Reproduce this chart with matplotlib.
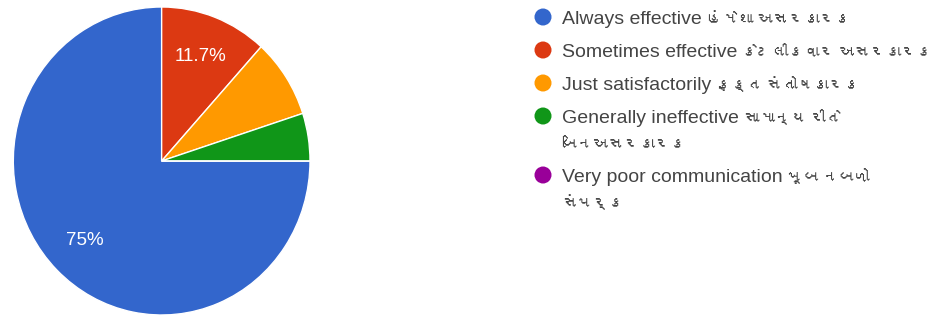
import matplotlib
matplotlib.use("Agg")
import matplotlib.pyplot as plt
from matplotlib import font_manager
from matplotlib.ft2font import FT2Font

labels = ["Always effective હંમેશા અસરકારક",
          "Sometimes effective કેટલીકવાર અસરકારક",
          "Just satisfactorily ફક્ત સંતોષકારક",
          "Generally ineffective સામાન્ય રીતે\nબિનઅસરકારક",
          "Very poor communication ખૂબ નબળો\nસંપર્ક"]
values = [75, 11.7, 8.3, 5, 0]
colors = ["#3366cc", "#dc3912", "#ff9900", "#109618", "#990099"]

# look for any installed font that has Gujarati glyphs
families = ["Liberation Sans", "DejaVu Sans"]
for f in font_manager.fontManager.ttflist:
    try:
        if 0x0A95 in FT2Font(f.fname).get_charmap():
            families.append(f.name)
            break
    except Exception:
        pass
plt.rcParams["font.family"] = families

W, H = 932, 319
fig = plt.figure(figsize=(W / 100, H / 100), dpi=100)

# pie (slightly taller than wide, like the source image)
ax = fig.add_axes([13.3 / W, 4 / H, 296.7 / W, 308 / H])

def pct_label(p):
    if p < 10:
        return ""
    return f"{p:.1f}".rstrip("0").rstrip(".") + "%"

ax.pie(values, colors=colors, startangle=0, counterclock=False,
       autopct=pct_label, pctdistance=0.73,
       wedgeprops=dict(edgecolor="white", linewidth=1),
       textprops=dict(color="white", fontsize=13.5))
ax.set_xlim(-1, 1)
ax.set_ylim(-1, 1)
ax.set_aspect("auto")
ax.axis("off")

# legend drawn in pixel space
lg = fig.add_axes([0, 0, 1, 1])
lg.set_xlim(0, W)
lg.set_ylim(H, 0)
lg.axis("off")
rend = fig.canvas.get_renderer()

def split_gu(s):
    for i, ch in enumerate(s):
        if 0x0A80 <= ord(ch) <= 0x0AFF:
            return s[:i].rstrip(), s[i:]
    return s, ""

y = 17
for lab, c in zip(labels, colors):
    lg.scatter([543], [y], s=150, color=c, edgecolors="none")
    lines = lab.split("\n")
    for i, ln in enumerate(lines):
        base = y + i * 26 + 7
        lat, gu = split_gu(ln)
        x = 562
        if lat:
            t = lg.text(x, base, lat, fontsize=14, color="#444444",
                        va="baseline", ha="left")
            x = t.get_window_extent(rend).x1 + 5
        if gu:
            lg.text(x, base, gu, fontsize=11.2, color="#444444",
                    va="baseline", ha="left")
    y += 33 + 26 * (len(lines) - 1)

fig.savefig("out.png", dpi=100)
